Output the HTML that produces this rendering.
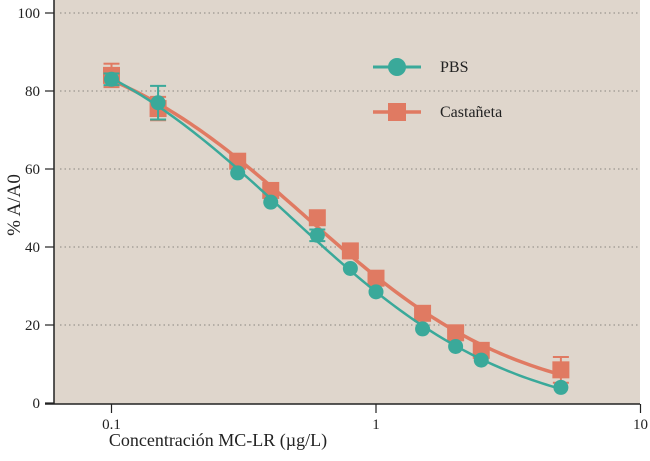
<!DOCTYPE html>
<html><head><meta charset="utf-8"><style>
body{margin:0;background:#fff}
svg{display:block;font-family:"Liberation Serif",serif}
</style></head><body>
<svg id="c" width="650" height="461">
<rect x="54" y="0" width="586" height="404" fill="#dfd6cc"/>
<g id="grid"></g>
<g id="axes"></g>
<g id="series"></g>
<text x="20" y="205" transform="rotate(-90 20 205)" text-anchor="middle" font-size="19" fill="#222">% A/A0</text>
<text x="218" y="446" text-anchor="middle" font-size="18" fill="#222">Concentración MC-LR (µg/L)</text>
<g>
<g>
<line x1="373" y1="67" x2="421" y2="67" stroke="#3aa99a" stroke-width="3"/>
<circle cx="397" cy="67" r="9" fill="#3aa99a"/>
<text x="440" y="72" font-size="16" fill="#222">PBS</text></g>
<g>
<line x1="373" y1="112" x2="421" y2="112" stroke="#e07a62" stroke-width="3.5"/>
<rect x="388" y="103" width="18" height="18" fill="#e07a62"/>
<text x="440" y="117" font-size="16" fill="#222">Castañeta</text></g>
</g>
</svg>
<script>
const concentrations=[0.1,0.15,0.3,0.4,0.6,0.8,1,1.5,2,2.5,5];
const pbsValues=[83,77,59,51.5,43,34.5,28.5,19,14.5,11,4];
const castValues=[84,75.5,62,54.5,47.5,39,32,23,18,13.5,8.5];
const pbsErr=[1.5,4.3,0,0,1.5,0,0,0,0,0,0];
const castErr=[3,3,0,0,0,0,0,0,0,0,3.3];
const yTicks=[0,20,40,60,80,100];
const xTicks=[0.1,1,10];
const xTickLabels=["0.1","1","10"];
const NS="http://www.w3.org/2000/svg";
const X=v=>376+264.5*Math.log10(v);
const Y=v=>403-3.9*v;
function mk(tag,attrs,parent){const e=document.createElementNS(NS,tag);for(const k in attrs)e.setAttribute(k,attrs[k]);parent.appendChild(e);return e;}
const grid=document.getElementById('grid'),axes=document.getElementById('axes'),ser=document.getElementById('series');
yTicks.forEach(t=>{
  if(t>0){const g=mk('line',{x1:60,x2:640,y1:Y(t),y2:Y(t),stroke:'#8a8580','stroke-width':1,'stroke-dasharray':'1.5 3'},grid);
  
  }
  const tk=mk('line',{x1:45,x2:54,y1:Y(t),y2:Y(t),stroke:'#222','stroke-width':1.2},axes);
  
  
  const tx=mk('text',{x:40,y:Y(t)+5,'text-anchor':'end','font-size':15,fill:'#222'},axes);tx.textContent=t;
  
  
});
xTicks.forEach((t,i)=>{
  const tk=mk('line',{x1:X(t),x2:X(t),y1:404,y2:413,stroke:'#222','stroke-width':1.2},axes);
  
  
  const tx=mk('text',{x:X(t),y:429,'text-anchor':'middle','font-size':15,fill:'#222'},axes);tx.textContent=xTickLabels[i];
  
  
});
const ya=mk('line',{x1:54,x2:54,y1:0,y2:404.5,stroke:'#222','stroke-width':1.5},axes);


const xa=mk('line',{x1:45,x2:640,y1:404,y2:404,stroke:'#222','stroke-width':1.5},axes);


// 4-parameter logistic fit by Nelder-Mead
function f4(p,x){return p[1]+(p[0]-p[1])/(1+Math.pow(x/Math.exp(p[2]),p[3]));}
function fit(vals){
  const loss=p=>concentrations.reduce((s,c,i)=>{const r=f4(p,c)-vals[i];return s+r*r;},0);
  let s=[[100,0,Math.log(0.6),1.2]];
  const steps=[10,5,0.5,0.3];
  for(let i=0;i<4;i++){const q=s[0].slice();q[i]+=steps[i];s.push(q);}
  for(let it=0;it<3000;it++){
    s.sort((a,b)=>loss(a)-loss(b));
    const n=4,c=[0,0,0,0];
    for(let i=0;i<n;i++)for(let j=0;j<4;j++)c[j]+=s[i][j]/n;
    const w=s[n],r=c.map((v,j)=>v+(v-w[j]));
    if(loss(r)<loss(s[0])){const e=c.map((v,j)=>v+2*(v-w[j]));s[n]=loss(e)<loss(r)?e:r;}
    else if(loss(r)<loss(s[n-1]))s[n]=r;
    else{const k=c.map((v,j)=>v+0.5*(w[j]-v));
      if(loss(k)<loss(w))s[n]=k;
      else for(let i=1;i<=n;i++)s[i]=s[i].map((v,j)=>s[0][j]+0.5*(v-s[0][j]));}
  }
  s.sort((a,b)=>loss(a)-loss(b));return s[0];
}
function curve(vals){
  const p=fit(vals);let d='';
  const l0=Math.log10(concentrations[0]),l1=Math.log10(concentrations[concentrations.length-1]);
  for(let i=0;i<=120;i++){const x=Math.pow(10,l0+(l1-l0)*i/120);d+=(i?'L':'M')+X(x).toFixed(2)+','+Y(f4(p,x)).toFixed(2);}
  return d;
}
function err(vals,errs,color,name){
  concentrations.forEach((c,i)=>{if(!errs[i])return;
    const x=X(c),y1=Y(vals[i]-errs[i]),y2=Y(vals[i]+errs[i]);
    const g=mk('g',{stroke:color,'stroke-width':2},ser);
    
    
    mk('line',{x1:x,x2:x,y1:y1,y2:y2},g);mk('line',{x1:x-8,x2:x+8,y1:y1,y2:y1},g);mk('line',{x1:x-8,x2:x+8,y1:y2,y2:y2},g);
  });
}
const cc='#e07a62',tc='#3aa99a';
err(castValues,castErr,cc,'castaneta');
const cl=mk('path',{d:curve(castValues),fill:'none',stroke:cc,'stroke-width':3.5},ser);


concentrations.forEach((c,i)=>{const r=mk('rect',{x:X(c)-8.5,y:Y(castValues[i])-8.5,width:17,height:17,fill:cc},ser);
  
  });
err(pbsValues,pbsErr,tc,'pbs');
const pl=mk('path',{d:curve(pbsValues),fill:'none',stroke:tc,'stroke-width':2.5},ser);


concentrations.forEach((c,i)=>{const r=mk('circle',{cx:X(c),cy:Y(pbsValues[i]),r:7.5,fill:tc},ser);
  
  });
</script>
</body></html>
